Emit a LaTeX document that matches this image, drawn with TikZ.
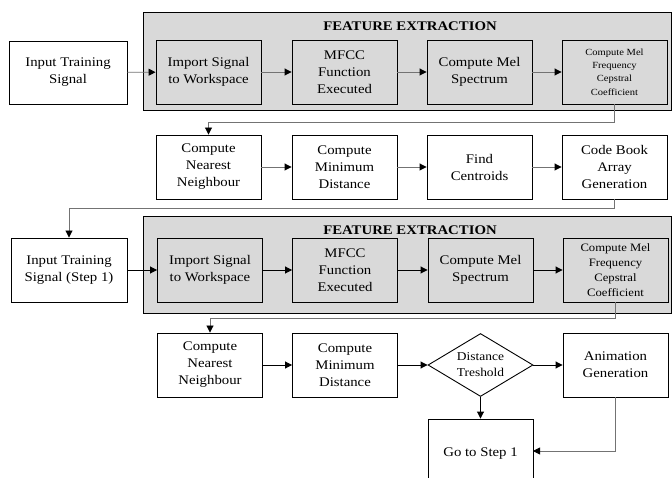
\documentclass[tikz,border=0pt]{standalone}
\usepackage{fontspec}
\setmainfont{Liberation Serif}[FakeStretch=1.12]
\usetikzlibrary{arrows.meta,shapes.geometric}
\definecolor{panelgray}{HTML}{D9D9D9}
\colorlet{linegray}{black!55}
\tikzset{
  box/.style={draw=black, line width=0.9pt, minimum width=105pt, minimum height=64pt,
    inner sep=1pt, align=center, font=\fontsize{13.2}{17}\selectfont},
  gbox/.style={box, fill=panelgray},
  panel/.style={draw=black, line width=0.8pt, fill=panelgray},
  ttl/.style={font=\bfseries\fontsize{13.2}{15}\selectfont, inner sep=0pt},
  conn/.style={line width=0.9pt, -{Triangle[length=7pt,width=7pt,color=black]}},
  gconn/.style={conn, draw=linegray},
  dia/.style={diamond, draw=black, line width=0.9pt, minimum width=105pt, minimum height=63pt,
    inner sep=0pt, aspect=1.667, align=center, font=\fontsize{12}{16}\selectfont}
}
\begin{document}
\begin{tikzpicture}[x=1pt,y=-1pt]
\useasboundingbox (0,0) rectangle (672,478);
\clip (0,0) rectangle (672,478);
% panels
\draw[panel] (143,12) rectangle (671,110);
\draw[panel] (143,216) rectangle (671,313);
\node[ttl] (t1) at (410,26) {FEATURE EXTRACTION};
\node[ttl] (t2) at (410,230) {FEATURE EXTRACTION};
% row 1
\node[box, minimum width=118pt, minimum height=63pt] (in1) at (68,72.5) {Input Training\\Signal};
\node[gbox] (imp1) at (208.5,72) {Import Signal\\to Workspace};
\node[gbox] (mfcc1) at (344.5,72) {MFCC\\Function\\Executed};
\node[gbox] (mel1) at (479.5,72) {Compute Mel\\Spectrum};
\node[gbox, font=\fontsize{9.4}{13.3}\selectfont] (coef1) at (614.5,72) {Compute Mel\\Frequency\\Cepstral\\Coefficient};
% row 2
\node[box] (nn1) at (208.5,167) {Compute\\Nearest\\Neighbour};
\node[box] (md1) at (344.5,167) {Compute\\Minimum\\Distance};
\node[box] (fc) at (479.5,167) {Find\\Centroids};
\node[box] (cb) at (614.5,167) {Code Book\\Array\\Generation};
% row 3
\node[box, minimum width=116pt] (in2) at (69,270) {Input Training\\Signal (Step 1)};
\node[gbox] (imp2) at (210,270) {Import Signal\\to Workspace};
\node[gbox] (mfcc2) at (345,270) {MFCC\\Function\\Executed};
\node[gbox] (mel2) at (480.5,270) {Compute Mel\\Spectrum};
\node[gbox, font=\fontsize{11.3}{15}\selectfont] (coef2) at (615.5,270) {Compute Mel\\Frequency\\Cepstral\\Coefficient};
% row 4
\node[box] (nn2) at (210,365) {Compute\\Nearest\\Neighbour};
\node[box] (md2) at (345,365) {Compute\\Minimum\\Distance};
\node[dia] (dt) at (480.5,365) {Distance\\Treshold};
\node[box] (anim) at (615.5,365) {Animation\\Generation};
\node[box, minimum height=70pt] (go) at (480.5,454) {Go to Step 1};
\coordinate (goin) at (533,451);
% connectors row 1
\draw[gconn] (in1) -- (imp1);
\draw[gconn] (imp1) -- (mfcc1);
\draw[gconn] (mfcc1) -- (mel1);
\draw[gconn] (mel1) -- (coef1);
\draw[gconn] (coef1.south) -- ++(0,18) -| (nn1.north);
% row 2
\draw[gconn] (nn1) -- (md1);
\draw[gconn] (md1) -- (fc);
\draw[gconn] (fc) -- (cb);
\draw[gconn] (cb.south) -- ++(0,9) -| (in2.north);
% row 3
\draw[conn] (in2) -- (imp2);
\draw[conn] (imp2) -- (mfcc2);
\draw[conn] (mfcc2) -- (mel2);
\draw[conn] (mel2) -- (coef2);
\draw[gconn] (coef2.south) -- ++(0,16) -| (nn2.north);
% row 4
\draw[conn] (nn2) -- (md2);
\draw[conn] (md2) -- (dt);
\draw[conn] (dt) -- (anim);
\draw[conn] (dt.south) -- (go.north);
\draw[gconn] (anim.south) |- (goin);
\end{tikzpicture}
\end{document}
